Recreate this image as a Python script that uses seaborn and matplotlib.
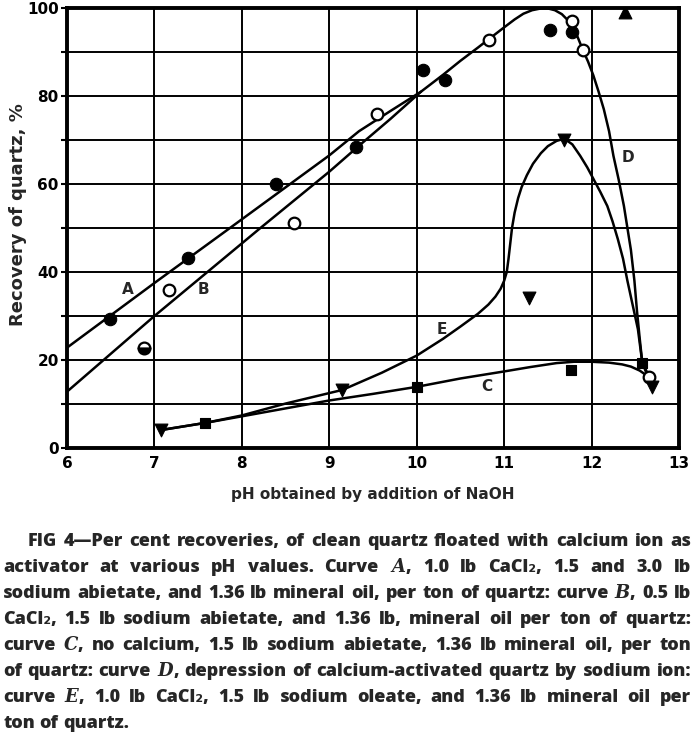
import matplotlib
matplotlib.use("Agg")
import matplotlib.pyplot as plt
import seaborn as sns
import numpy as np
import pandas as pd

# ---------------- data ----------------
# measured points
a_x = [6.49, 7.38, 8.39, 9.30, 10.07, 10.32, 11.52, 11.78]          # filled circles (curve A)
a_y = [29.4, 43.2, 60.0, 68.5, 86.0, 83.6, 95.0, 94.5]
b_x = [7.17, 8.60, 9.55, 10.83, 11.78, 11.90, 12.66]                # open circles (curve B)
b_y = [35.8, 51.1, 76.0, 92.7, 97.0, 90.4, 16.2]
bh_x = [6.88]                                                       # half-filled circle
bh_y = [22.8]
c_x = [7.58, 10.0, 11.77, 12.58]                                    # filled squares (curve C)
c_y = [5.7, 13.9, 17.8, 19.4]
e_x = [7.08, 9.15, 11.29, 11.69, 12.69]                             # filled down-triangles (curve E)
e_y = [4.1, 13.2, 34.2, 70.0, 13.9]
d_x = [12.38]                                                       # filled up-triangle
d_y = [99.0]

# drawn curves
curveA_x = [6.0, 7.0, 7.85, 9.0, 9.34, 9.7, 10.05, 10.3, 10.5, 10.7, 10.83, 11.0, 11.12, 11.22, 11.32,
            11.42, 11.5, 11.58, 11.66, 11.74, 11.82, 11.9, 11.96, 12.02, 12.08, 12.14, 12.2, 12.25,
            12.31, 12.37, 12.41, 12.45, 12.49, 12.52, 12.55, 12.58, 12.66]
curveA_y = [22.8, 37.5, 49.8, 66.5, 72.0, 76.6, 81.0, 84.8, 88.0, 91.0, 93.0, 95.6, 97.4, 98.7, 99.5,
            99.9, 99.9, 99.5, 98.6, 97.0, 94.4, 90.5, 87.8, 84.7, 81.0, 77.0, 72.0, 66.4,
            61.0, 55.0, 50.0, 45.0, 38.0, 31.0, 25.0, 19.4, 16.2]
curveB_x = [6.0, 7.0, 8.2, 9.0, 9.34, 9.7, 10.05]
curveB_y = [12.8, 30.0, 49.8, 62.8, 68.7, 74.8, 81.0]
curveC_x = [7.08, 7.58, 8.0, 8.5, 9.0, 9.5, 10.0, 10.5, 11.0, 11.3, 11.6, 11.8, 12.0, 12.2, 12.35, 12.45,
            12.55, 12.65]
curveC_y = [4.1, 5.7, 7.2, 9.0, 10.8, 12.3, 13.9, 15.8, 17.4, 18.4, 19.3, 19.6, 19.6, 19.4, 19.0, 18.5,
            17.6, 16.2]
curveE_x = [7.08, 7.58, 8.0, 8.5, 9.15, 9.6, 10.0, 10.3, 10.5, 10.7, 10.82, 10.9, 10.96, 11.0, 11.03,
            11.05, 11.07, 11.09, 11.12, 11.16, 11.2, 11.26, 11.33, 11.42, 11.5, 11.6, 11.69, 11.78,
            11.87, 11.95, 12.02, 12.1, 12.18, 12.24, 12.3, 12.36, 12.41, 12.47, 12.53, 12.58, 12.69]
curveE_y = [4.1, 5.7, 7.4, 10.1, 13.2, 17.1, 21.0, 24.8, 27.6, 30.5, 32.6, 34.4, 36.2, 38.0, 40.0,
            43.0, 46.5, 50.0, 53.5, 56.8, 59.3, 62.0, 64.6, 67.0, 68.6, 69.8, 70.3, 69.0,
            66.4, 63.8, 61.2, 58.2, 55.0, 51.5, 47.5, 43.0, 38.0, 32.5, 27.0, 19.4, 13.9]

curve_labels = ["A", "B", "C", "D", "E"]
label_x = [6.70, 7.56, 10.80, 12.42, 10.29]
label_y = [36.0, 36.0, 14.0, 66.0, 27.0]

x_ticks = [6, 7, 8, 9, 10, 11, 12, 13]
y_ticks = [0, 10, 20, 30, 40, 50, 60, 70, 80, 90, 100]
y_ticklabels = ["0", "", "20", "", "40", "", "60", "", "80", "", "100"]

x_label = "pH obtained by addition of NaOH"
y_label = "Recovery of quartz, %"

caption_lines = [
    "FIG 4\u2014Per cent recoveries, of clean quartz floated with calcium ion as",
    "activator at various pH values. Curve $A$, 1.0 lb CaCl\u2082, 1.5 and 3.0 lb",
    "sodium abietate, and 1.36 lb mineral oil, per ton of quartz: curve $B$, 0.5 lb",
    "CaCl\u2082, 1.5 lb sodium abietate, and 1.36 lb, mineral oil per ton of quartz:",
    "curve $C$, no calcium, 1.5 lb sodium abietate, 1.36 lb mineral oil, per ton",
    "of quartz: curve $D$, depression of calcium-activated quartz by sodium ion:",
    "curve $E$, 1.0 lb CaCl\u2082, 1.5 lb sodium oleate, and 1.36 lb mineral oil per",
    "ton of quartz.",
]

# ---------------- style ----------------
sns.set_theme(style="white")
plt.rcParams["font.family"] = ["DejaVu Sans"]
plt.rcParams["mathtext.fontset"] = "custom"
plt.rcParams["mathtext.it"] = "DejaVu Serif:italic:bold"
plt.rcParams["mathtext.rm"] = "DejaVu Serif:bold"

W, H = 694, 742
fig = plt.figure(figsize=(W / 100, H / 100), dpi=100)
ax = fig.add_axes([67 / W, (H - 448) / H, (679 - 67) / W, (448 - 8) / H])

line_kw = dict(color="black", lw=1.8, sort=False, estimator=None, ax=ax, legend=False)
for cx, cy in [(curveA_x, curveA_y), (curveB_x, curveB_y), (curveC_x, curveC_y), (curveE_x, curveE_y)]:
    sns.lineplot(x=cx, y=cy, zorder=2, **line_kw)

sns.scatterplot(x=a_x, y=a_y, marker="o", s=80, color="black", edgecolor="black", linewidth=0.8, zorder=4, ax=ax)
sns.scatterplot(x=b_x, y=b_y, marker="o", s=70, color="white", edgecolor="black", linewidth=1.6, zorder=4, ax=ax)
sns.scatterplot(x=c_x, y=c_y, marker="s", s=60, color="black", edgecolor="black", linewidth=0.8, zorder=4, ax=ax)
sns.scatterplot(x=e_x, y=e_y, marker="v", s=85, color="black", edgecolor="black", linewidth=0.8, zorder=4, ax=ax)
sns.scatterplot(x=d_x, y=d_y, marker="^", s=85, color="black", edgecolor="black", linewidth=0.8, zorder=4, ax=ax)
ax.plot(bh_x, bh_y, ls="none", marker="o", ms=8.5, fillstyle="bottom", markerfacecolor="black",
        markerfacecoloralt="white", markeredgecolor="black", markeredgewidth=1.6, zorder=4)

for t, lx, ly in zip(curve_labels, label_x, label_y):
    ax.text(lx, ly, t, fontsize=11, fontweight="bold", ha="center", va="center", zorder=5)

ax.set_xlim(6, 13)
ax.set_ylim(0, 100)
ax.set_xticks(x_ticks)
ax.set_xticklabels([str(v) for v in x_ticks], fontsize=11, fontweight="bold")
ax.set_yticks(y_ticks)
ax.set_yticklabels(y_ticklabels, fontsize=11, fontweight="bold")
ax.tick_params(axis="x", length=0, pad=6, colors="black")
ax.tick_params(axis="y", length=4, width=1.5, direction="out", pad=2, left=True, colors="black")
ax.grid(True, color="black", lw=1.4)
ax.set_axisbelow(True)
for sp in ax.spines.values():
    sp.set_visible(True)
    sp.set_color("black")
    sp.set_linewidth(2.8)

ax.set_xlabel(x_label, fontsize=11, fontweight="bold")
ax.xaxis.set_label_coords(0.5, -(494 - 448) / 440)
ax.xaxis.label.set_va("center")
ax.set_ylabel(y_label, fontsize=13, fontweight="bold")
ax.yaxis.set_label_coords(-(67 - 18) / 612, (448 - 215) / 440)
ax.yaxis.label.set_va("center")

# ---------------- justified caption ----------------
renderer = fig.canvas.get_renderer()
cap_font = dict(fontsize=13, fontweight="heavy", family=["Open Sans", "DejaVu Sans"])
line_centers = [541, 567, 593, 619, 645, 671, 697, 723]
for i, (txt, yc) in enumerate(zip(caption_lines, line_centers)):
    x0 = 28 if i == 0 else 3
    x1 = 691
    words = txt.split(" ")
    yb = (H - (yc + 5)) / H
    objs = [fig.text(0, yb, w, va="baseline", ha="left", **cap_font) for w in words]
    widths = [o.get_window_extent(renderer).width for o in objs]
    last = i == len(caption_lines) - 1
    if last or len(words) == 1:
        gap = 5.0
    else:
        gap = max(3.0, (x1 - x0 - sum(widths)) / (len(words) - 1))
    x = x0
    for o, w in zip(objs, widths):
        o.set_x(x / W)
        x += w + gap

fig.savefig("out.png", dpi=100)
